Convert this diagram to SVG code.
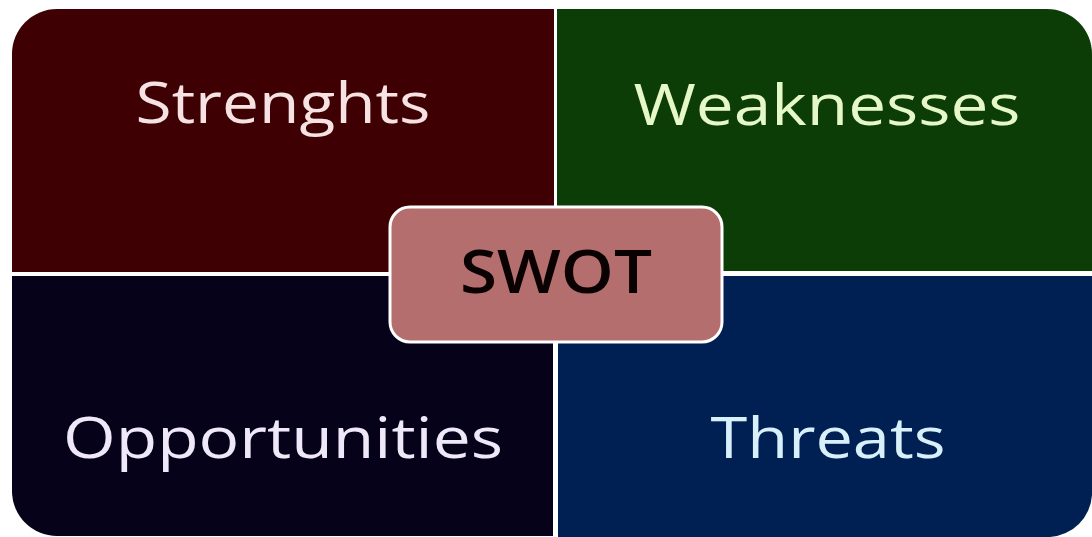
<svg xmlns="http://www.w3.org/2000/svg" width="1092" height="537" viewBox="0 0 1092 537">
  <style>
    .lbl { font-family: "Open Sans", "Liberation Sans", sans-serif; font-size: 56px; text-anchor: middle; }
    .center { font-family: "Open Sans", "Liberation Sans", sans-serif; font-size: 60px; font-weight: 600; text-anchor: middle; fill: #0a0202; }
  </style>
  <rect x="0" y="0" width="1092" height="537" fill="#ffffff"/>
  <g id="strengths">
    <path d="M12,272 V54 A45,45 0 0 1 57,9 H554 V272 Z" fill="#3e0002"/>
    <text class="lbl" x="283" y="123" fill="#f6e2e2" textLength="295" lengthAdjust="spacingAndGlyphs">Strenghts</text>
  </g>
  <g id="weaknesses">
    <path d="M557,9 H1047 A45,45 0 0 1 1092,54 V271 H557 Z" fill="#0c3d06"/>
    <text class="lbl" x="827" y="125" fill="#e6f8c8" textLength="387" lengthAdjust="spacingAndGlyphs">Weaknesses</text>
  </g>
  <g id="opportunities">
    <path d="M12,276 H553 V536 H57 A45,45 0 0 1 12,491 Z" fill="#05021a"/>
    <text class="lbl" x="283" y="458" fill="#eee8f8" textLength="440" lengthAdjust="spacingAndGlyphs">Opportunities</text>
  </g>
  <g id="threats">
    <path d="M558,276 H1092 V495 A45,45 0 0 1 1050,537 H558 Z" fill="#001f52"/>
    <text class="lbl" x="828" y="458" fill="#d8f0fa" textLength="235" lengthAdjust="spacingAndGlyphs">Threats</text>
  </g>
  <g id="connectors"></g>
  <g id="swot">
    <rect x="390" y="207" width="332" height="135" rx="20" ry="20" fill="#b56e6e" stroke="#ffffff" stroke-width="3"/>
    <text class="center" x="556" y="293" textLength="192" lengthAdjust="spacingAndGlyphs">SWOT</text>
  </g>
</svg>
